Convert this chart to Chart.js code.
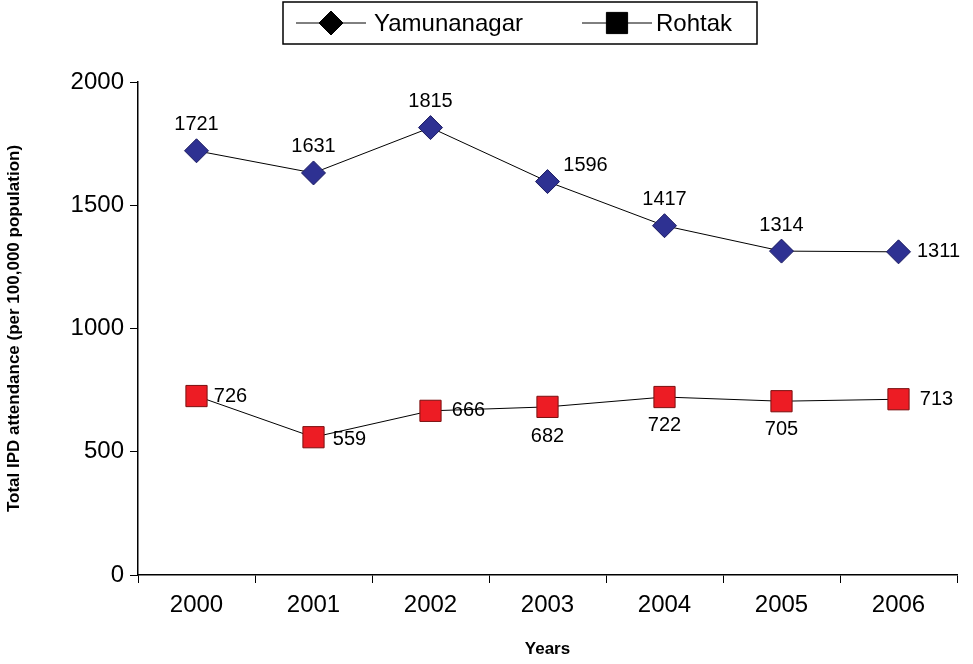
<!DOCTYPE html>
<html><head><meta charset="utf-8">
<script src="https://cdn.jsdelivr.net/npm/chart.js@4"></script>
<style>html,body{margin:0;padding:0;background:#fff}#w{width:973px;height:664px}</style>
</head><body><div id="w"><canvas id="c"></canvas></div>
<script>
const years = ["2000","2001","2002","2003","2004","2005","2006"];
const yamunanagar = [1721,1631,1815,1596,1417,1314,1311];
const rohtak = [726,559,666,682,722,705,713];
const yTicks = [0,500,1000,1500,2000];

const labelPos = [
  [[0,-26],[0,-26],[0,-26],[38,-16],[0,-26],[0,-26],[40,0]],
  [[34,0],[36,2],[38,0],[0,30],[0,28],[0,28],[38,0]]
];
const F='Arial, "Liberation Sans"';
const labelPlugin = {
  id:'lbl',
  afterDatasetsDraw(chart){
    const ctx=chart.ctx;
    ctx.save();ctx.font='20px '+F;ctx.fillStyle='#000';
    ctx.textAlign='center';ctx.textBaseline='middle';
    chart.data.datasets.forEach((ds,i)=>{
      chart.getDatasetMeta(i).data.forEach((p,j)=>{
        const o=labelPos[i][j];ctx.fillText(ds.data[j],p.x+o[0],p.y+o[1]);
      });
    });
    // legend
    ctx.strokeStyle='#000';ctx.lineWidth=1.5;
    ctx.strokeRect(283,2,474,42);
    ctx.lineWidth=1;
    ctx.beginPath();ctx.moveTo(296,23);ctx.lineTo(366,23);ctx.moveTo(582,23);ctx.lineTo(652,23);ctx.stroke();
    const m0=chart.getDatasetMeta(0).data[0].options, m1=chart.getDatasetMeta(1).data[0].options;
    Chart.helpers.drawPoint(ctx,m0,331,23);
    Chart.helpers.drawPoint(ctx,m1,617,23);
    ctx.fillStyle='#000';ctx.font='24px '+F;ctx.textAlign='left';
    ctx.fillText(chart.data.datasets[0].label,374,24);
    ctx.fillText(chart.data.datasets[1].label,656,24);
    ctx.restore();
  }
};
new Chart(document.getElementById('c'),{
  type:'line',
  data:{labels:years,datasets:[
    {label:'Yamunanagar',data:yamunanagar,borderColor:'#000',borderWidth:1,backgroundColor:'#2e3192',
     pointStyle:'rectRot',pointRadius:12,pointHoverRadius:12,pointBorderColor:'#1a1a60',pointBorderWidth:1},
    {label:'Rohtak',data:rohtak,borderColor:'#000',borderWidth:1,backgroundColor:'#ed1c24',
     pointStyle:'rect',pointRadius:15,pointHoverRadius:15,pointBorderColor:'#7a1010',pointBorderWidth:1}
  ]},
  options:{responsive:true,maintainAspectRatio:false,animation:false,
    layout:{padding:{top:82,right:5,left:0,bottom:0}},
    plugins:{tooltip:{enabled:false},legend:{display:false}},
    scales:{
      x:{offset:true,grid:{display:true,drawOnChartArea:false,offset:true,color:'#000',tickLength:8},border:{color:'#000',width:1.5},
        afterFit(a){a.height=89;},
        ticks:{color:'#000',font:{size:24,family:F},padding:8},
        title:{display:true,text:'Years',color:'#000',font:{size:17,weight:'bold',family:F},padding:{top:6}}},
      y:{min:0,max:2000,afterBuildTicks(a){a.ticks=yTicks.map(v=>({value:v}));},
        afterFit(a){a.width=138;},
        grid:{display:true,drawOnChartArea:false,color:'#000',tickLength:8},border:{color:'#000',width:1.5},
        ticks:{color:'#000',font:{size:24,family:F},padding:6,callback:v=>String(v)},
        title:{display:true,text:'Total IPD attendance (per 100,000 population)',color:'#000',font:{size:17,weight:'bold',family:F}}}
    }
  },
  plugins:[labelPlugin]
});
</script></body></html>
